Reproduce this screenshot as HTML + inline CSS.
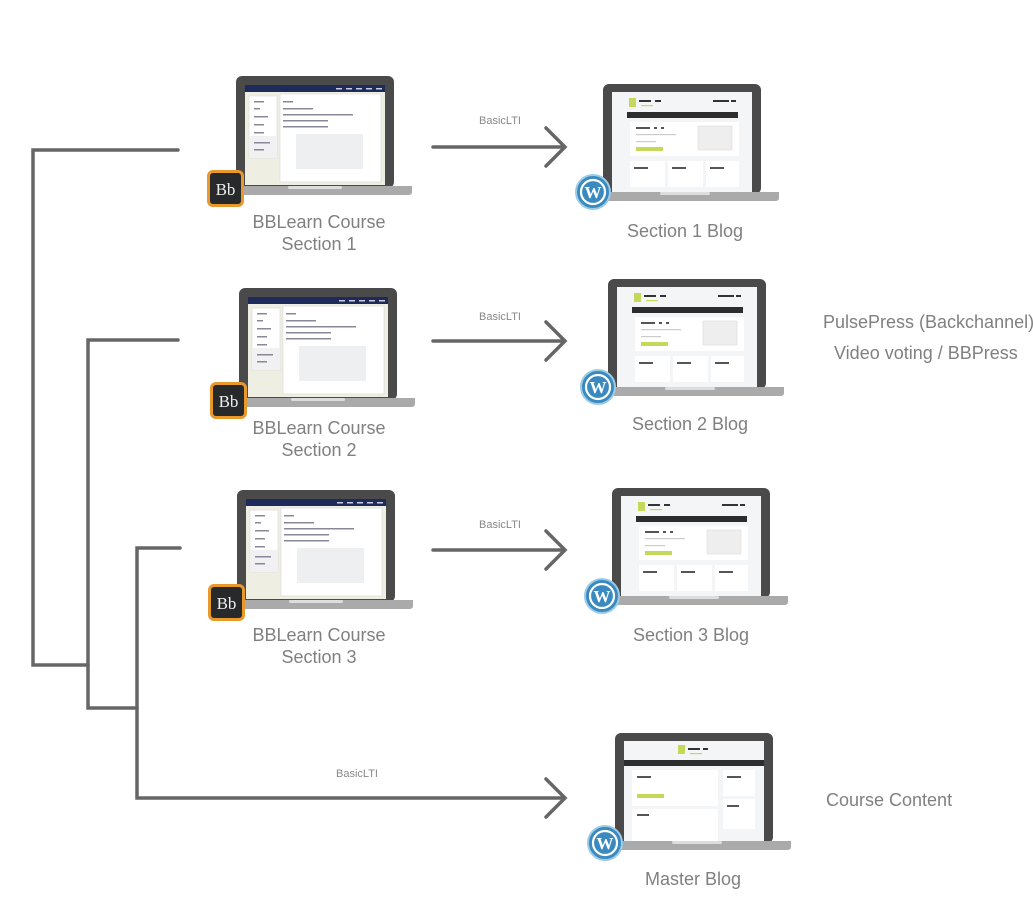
<!DOCTYPE html>
<html><head><meta charset="utf-8"><style>
body{margin:0;background:#fff;}
svg{display:block;}
text{font-family:"Liberation Sans",sans-serif;fill:#808080;}
</style></head><body>
<svg width="1033" height="900" viewBox="0 0 1033 900" xmlns="http://www.w3.org/2000/svg">
<defs>
<symbol id="bb" overflow="visible">
  <rect x="0" y="0" width="158" height="112" rx="6" fill="#4a4a4a"/>
  <rect x="9" y="9" width="140" height="100" fill="#efeee2"/>
  <rect x="9" y="9" width="140" height="7" fill="#1e2a5a"/>
  <g fill="#ccd" ><rect x="100" y="12" width="6" height="1.5"/><rect x="110" y="12" width="6" height="1.5"/><rect x="120" y="12" width="6" height="1.5"/><rect x="130" y="12" width="6" height="1.5"/><rect x="140" y="12" width="6" height="1.5"/></g>
  <rect x="13" y="20" width="28" height="62" fill="#fff" stroke="#ddd" stroke-width="0.7"/>
  <rect x="13" y="60" width="28" height="22" fill="#f1f1f3"/>
  <rect x="44" y="18" width="101" height="88" fill="#fff" stroke="#ddd" stroke-width="0.7"/>
  <rect x="60" y="58" width="67" height="35" fill="#eeeff1"/>
  <g fill="#889">
   <rect x="18" y="25" width="10" height="1.5"/><rect x="18" y="32" width="6" height="1.5"/><rect x="18" y="40" width="14" height="1.5"/><rect x="18" y="48" width="10" height="1.5"/><rect x="18" y="56" width="10" height="1.5"/><rect x="18" y="66" width="16" height="1.5"/><rect x="18" y="73" width="10" height="1.5"/>
   <rect x="47" y="25" width="10" height="1.5"/><rect x="47" y="32" width="30" height="1.5"/><rect x="47" y="38" width="70" height="1.5"/><rect x="47" y="44" width="45" height="1.5"/><rect x="47" y="50" width="45" height="1.5"/>
  </g>
  <path d="M-20 110 H176 V116 Q176 119 172 119 H-16 Q-20 119 -20 116 Z" fill="#aaa"/>
  <rect x="52" y="110" width="54" height="3" rx="1.5" fill="#ddd"/>
  <rect x="-29" y="94" width="37" height="37" rx="6" fill="#e9982c"/>
  <rect x="-26" y="97" width="31" height="31" rx="3" fill="#27292b"/>
  <text x="-10.5" y="119" text-anchor="middle" style="font-family:'Liberation Serif',serif;font-size:17px;fill:#eee">Bb</text>
</symbol>
<symbol id="wp" overflow="visible">
  <rect x="0" y="0" width="158" height="110" rx="6" fill="#4a4a4a"/>
  <rect x="9" y="8" width="140" height="100" fill="#f4f5f7"/>
  <rect x="26" y="14" width="7" height="9" fill="#c5d85a"/>
  <g fill="#333"><rect x="36" y="16" width="12" height="2"/><rect x="52" y="16" width="6" height="2"/><rect x="110" y="16" width="16" height="2"/><rect x="128" y="16" width="5" height="2"/></g>
  <rect x="38" y="21" width="12" height="1.2" fill="#c5d85a"/>
  <rect x="24" y="28" width="111" height="6" fill="#2d2d2d"/>
  <rect x="27" y="38" width="109" height="34" fill="#fff"/>
  <rect x="95" y="42" width="34" height="24" fill="#eee" stroke="#ddd" stroke-width="0.6"/>
  <g fill="#555"><rect x="33" y="43" width="14" height="2"/><rect x="51" y="43" width="3" height="2"/><rect x="58" y="43" width="3" height="2"/></g>
  <g fill="#ccc"><rect x="33" y="50" width="40" height="1.2"/><rect x="33" y="57" width="20" height="1.2"/></g>
  <rect x="33" y="63" width="27" height="4" fill="#c5d85a"/>
  <rect x="27" y="77" width="35" height="26" fill="#fff"/>
  <rect x="65" y="77" width="35" height="26" fill="#fff"/>
  <rect x="103" y="77" width="33" height="26" fill="#fff"/>
  <g fill="#555"><rect x="31" y="83" width="14" height="2"/><rect x="69" y="83" width="14" height="2"/><rect x="107" y="83" width="14" height="2"/></g>
  <path d="M-5 108 H176 V114 Q176 117 172 117 H-1 Q-5 117 -5 114 Z" fill="#aaa"/>
  <rect x="57" y="108" width="50" height="3" rx="1.5" fill="#ddd"/>
  <circle cx="-10" cy="108" r="17" fill="#3a8ac0" stroke="#9ccbe6" stroke-width="2"/>
  <circle cx="-10" cy="108" r="12" fill="none" stroke="#fff" stroke-width="2.2"/>
  <text x="-10" y="114" text-anchor="middle" style="font-family:'Liberation Serif',serif;font-size:17px;fill:#fff;font-weight:bold">W</text>
</symbol>
</defs>

<g fill="none" stroke="#666" stroke-width="3.5" stroke-linecap="round" stroke-linejoin="miter">
  <path d="M178 150 H33 V665 H88"/>
  <path d="M178 340 H88 V708 H137"/>
  <path d="M180 548 H137 V798 H563"/>
  <path d="M433 147 H563 M546 128 L565 147 L546 166"/>
  <path d="M433 341 H563 M546 322 L565 341 L546 360"/>
  <path d="M433 550 H563 M546 531 L565 550 L546 569"/>
  <path d="M546 779 L565 798 L546 817"/>
</g>

<g style="font-size:11px">
<text x="500" y="124" text-anchor="middle" style="fill:#888">BasicLTI</text>
<text x="500" y="320" text-anchor="middle" style="fill:#888">BasicLTI</text>
<text x="500" y="528" text-anchor="middle" style="fill:#888">BasicLTI</text>
<text x="357" y="777" text-anchor="middle" style="fill:#888">BasicLTI</text>
</g>

<use href="#bb" x="236" y="76"/>
<use href="#bb" x="239" y="288"/>
<use href="#bb" x="237" y="490"/>
<use href="#wp" x="603" y="84"/>
<use href="#wp" x="608" y="279"/>
<use href="#wp" x="612" y="488"/>

<g transform="translate(615,733)">
  <rect x="0" y="0" width="158" height="110" rx="6" fill="#4a4a4a"/>
  <rect x="9" y="8" width="140" height="100" fill="#f4f5f7"/>
  <rect x="63" y="12" width="7" height="9" fill="#c5d85a"/>
  <g fill="#333"><rect x="73" y="15" width="12" height="2"/><rect x="88" y="15" width="5" height="2"/></g>
  <rect x="75" y="20" width="12" height="1.2" fill="#c5d85a"/>
  <rect x="9" y="27" width="140" height="6" fill="#2d2d2d"/>
  <rect x="17" y="37" width="86" height="36" fill="#fff"/>
  <rect x="17" y="76" width="86" height="33" fill="#fff"/>
  <rect x="108" y="37" width="32" height="26" fill="#fff"/>
  <rect x="108" y="66" width="32" height="30" fill="#fff"/>
  <rect x="22" y="61" width="27" height="4" fill="#c5d85a"/>
  <g fill="#555"><rect x="22" y="43" width="14" height="2"/><rect x="22" y="81" width="12" height="2"/><rect x="112" y="43" width="14" height="2"/><rect x="112" y="72" width="12" height="2"/></g>
  <path d="M-5 108 H176 V114 Q176 117 172 117 H-1 Q-5 117 -5 114 Z" fill="#aaa"/>
  <rect x="57" y="108" width="50" height="3" rx="1.5" fill="#ddd"/>
  <circle cx="-10" cy="110" r="17" fill="#3a8ac0" stroke="#9ccbe6" stroke-width="2"/>
  <circle cx="-10" cy="110" r="12" fill="none" stroke="#fff" stroke-width="2.2"/>
  <text x="-10" y="116" text-anchor="middle" style="font-family:'Liberation Serif',serif;font-size:17px;fill:#fff;font-weight:bold">W</text>
</g>

<g style="font-size:18px" text-anchor="middle">
<text x="319" y="228">BBLearn Course</text>
<text x="319" y="250">Section 1</text>
<text x="319" y="434">BBLearn Course</text>
<text x="319" y="456">Section 2</text>
<text x="319" y="641">BBLearn Course</text>
<text x="319" y="663">Section 3</text>
<text x="685" y="237">Section 1 Blog</text>
<text x="690" y="430">Section 2 Blog</text>
<text x="691" y="641">Section 3 Blog</text>
<text x="693" y="885">Master Blog</text>
</g>
<g style="font-size:18px">
<text x="823" y="328">PulsePress (Backchannel)</text>
<text x="834" y="359">Video voting / BBPress</text>
<text x="826" y="806">Course Content</text>
</g>
</svg>
</body></html>
